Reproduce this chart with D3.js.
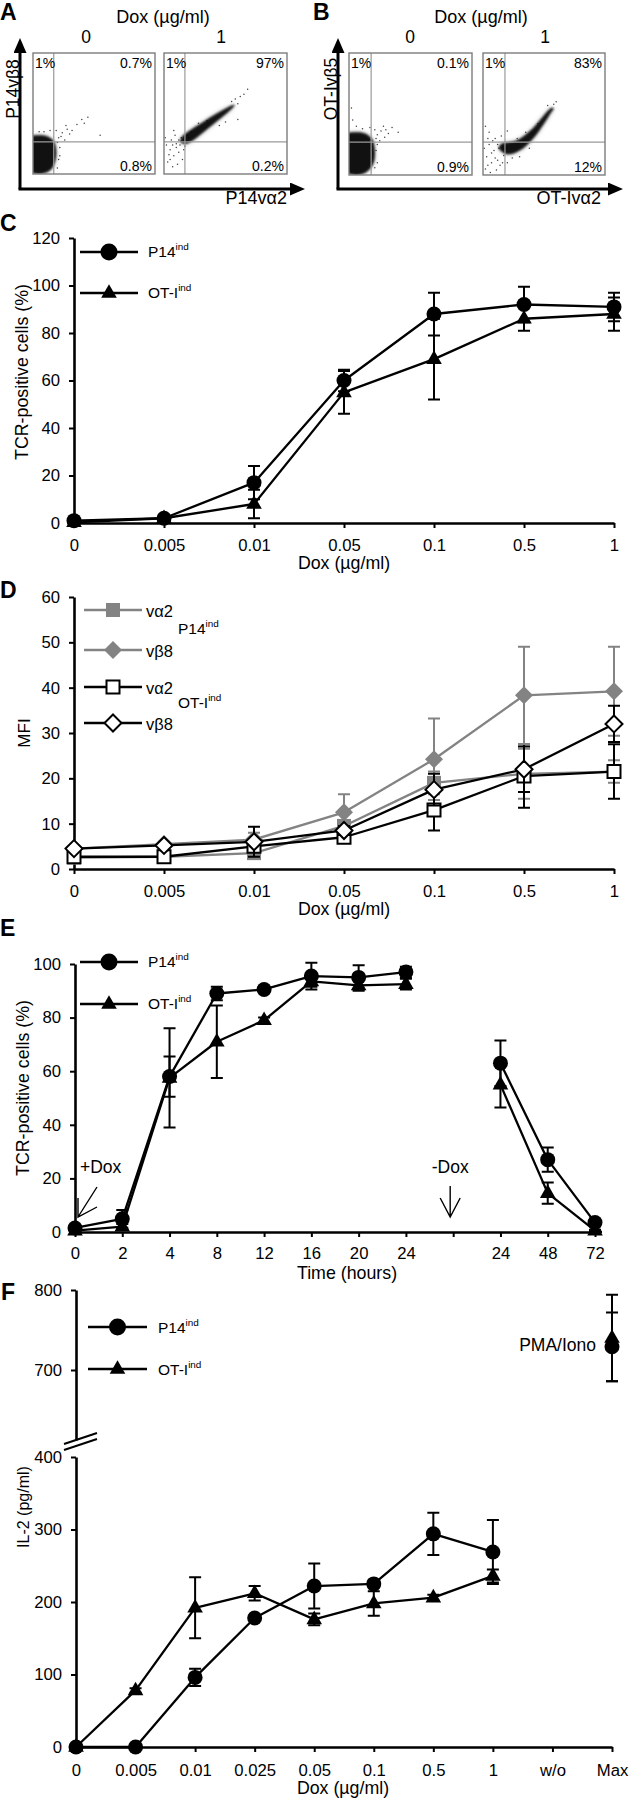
<!DOCTYPE html>
<html><head><meta charset="utf-8">
<script src="https://cdn.jsdelivr.net/npm/d3@7/dist/d3.min.js"></script>
<style>
body{margin:0;background:#fff;}
svg{display:block;}
</style></head><body>
<svg id="fig" width="633" height="1799"></svg>
<script>
// ================= DATA =================
// Panels A/B: quadrant percentages (top-left, top-right, bottom-right)
const aPct0 = ["1%", "0.7%", "0.8%"];
const aPct1 = ["1%", "97%", "0.2%"];
const bPct0 = ["1%", "0.1%", "0.9%"];
const bPct1 = ["1%", "83%", "12%"];
// flow events: dense population outlines and sparse events (fraction of log axis, 0..1)
const aCloud0 = [[-0.03,0.03],[0.06,0.0],[0.14,0.03],[0.18,0.1],[0.19,0.19],[0.17,0.27],[0.12,0.31],[0.04,0.32],[-0.03,0.3]];
const aCloud1 = [[0.14,0.3],[0.135,0.265],[0.18,0.25],[0.38,0.395],[0.565,0.553],[0.575,0.572],[0.555,0.568],[0.34,0.445]];
const bCloud0 = [[-0.03,0.03],[0.07,0.0],[0.15,0.03],[0.2,0.1],[0.21,0.2],[0.19,0.29],[0.13,0.34],[0.05,0.35],[-0.03,0.33]];
const bCloud1 = [[0.13,0.22],[0.2,0.17],[0.3,0.2],[0.42,0.31],[0.56,0.515],[0.58,0.545],[0.56,0.55],[0.4,0.375],[0.27,0.28],[0.15,0.255]];
const aDots0 = [[0.21,0.3],[0.24,0.34],[0.28,0.37],[0.32,0.36],[0.36,0.41],[0.26,0.28],[0.22,0.22],[0.22,0.15],[0.2,0.05],[0.19,0.36],[0.14,0.36],[0.09,0.35],[0.42,0.42],[0.55,0.32],[0.27,0.4],[0.3,0.33],[0.05,0.35],[0.21,0.12],[0.4,0.45],[0.45,0.47],[0.2,0.26],[0.23,0.31]];
const aDots1 = [[0.03,0.1],[0.05,0.2],[0.08,0.15],[0.1,0.25],[0.12,0.18],[0.06,0.28],[0.14,0.3],[0.09,0.32],[0.02,0.24],[0.11,0.08],[0.16,0.2],[0.18,0.27],[0.04,0.16],[0.07,0.06],[0.13,0.24],[0.2,0.3],[0.15,0.12],[0.01,0.3],[0.08,0.36],[0.22,0.35],[0.58,0.62],[0.62,0.64],[0.65,0.66],[0.55,0.6],[0.6,0.45],[0.45,0.4],[0.5,0.43],[0.35,0.44],[0.28,0.42],[0.68,0.7],[0.6,0.58],[0.1,0.22],[0.07,0.24],[0.12,0.28],[0.05,0.12],[0.17,0.23],[0.14,0.27],[0.19,0.32]];
const bDots0 = [[0.23,0.33],[0.26,0.36],[0.3,0.37],[0.21,0.37],[0.25,0.28],[0.22,0.2],[0.23,0.1],[0.32,0.34],[0.28,0.4],[0.17,0.39],[0.11,0.38],[0.06,0.4],[0.35,0.39],[0.21,0.06],[0.23,0.25],[0.4,0.35],[0.03,0.45],[0.02,0.55],[0.29,0.31],[0.22,0.3]];
const bDots1 = [[0.02,0.05],[0.03,0.15],[0.05,0.25],[0.07,0.1],[0.09,0.2],[0.04,0.3],[0.1,0.3],[0.06,0.02],[0.12,0.12],[0.14,0.08],[0.01,0.22],[0.08,0.28],[0.13,0.22],[0.16,0.1],[0.11,0.04],[0.2,0.1],[0.05,0.35],[0.15,0.32],[0.58,0.58],[0.6,0.6],[0.53,0.57],[0.35,0.35],[0.45,0.42],[0.28,0.3],[0.3,0.15],[0.38,0.22],[0.02,0.4],[0.2,0.36],[0.07,0.18],[0.1,0.14],[0.04,0.08],[0.17,0.16],[0.24,0.14],[0.12,0.25],[0.19,0.22]];

// Panel C
const doseCats = ["0", "0.005", "0.01", "0.05", "0.1", "0.5", "1"];
const cP14 = [1, 2, 17, 60, 88, 92, 91];
const cP14Err = [0.5, 1, 7, 4.5, 9, 7.5, 6];
const cOT = [0.3, 2, 8, 55, 69, 86, 88];
const cOTErr = [0.3, 1, 6, 9, 17, 5, 7];
const cYTicks = [0, 20, 40, 60, 80, 100, 120];

// Panel D
const dP14va2 = [2.5, 2.7, 3.5, 9.5, 19, 21, 21.5];
const dP14va2Err = [0.4, 0.4, 0.6, 1.2, 2.5, 5.5, 2.5];
const dP14vb8 = [4.5, 5.5, 6.5, 12.5, 24.2, 38.3, 39.2];
const dP14vb8Err = [0.5, 0.5, 1.5, 4, 9, 10.7, 9.8];
const dOTva2 = [2.7, 2.7, 5, 7, 13, 20.5, 21.5];
const dOTva2Err = [0.3, 0.3, 1, 1, 4.5, 7, 6];
const dOTvb8 = [4.5, 5.2, 6, 8.5, 17.5, 22, 32];
const dOTvb8Err = [0.5, 0.5, 3.3, 1, 3.5, 5, 4];
const dYTicks = [0, 10, 20, 30, 40, 50, 60];

// Panel E
const timeCats = ["0", "2", "4", "8", "12", "16", "20", "24", "", "24", "48", "72"];
const eP14 = [1.5, 4.9, 58, 89, 90.5, 95.5, 95, 97, null, 63, 27, 3.5];
const eP14Err = [0.5, 3.3, 7.5, 2.5, 1, 5, 4.5, 2, null, 8.5, 4.5, 1];
const eOT = [0.5, 2, 57.5, 71, 79, 93.5, 92, 92.5, null, 55, 14.5, 0.5];
const eOTErr = [0.3, 1, 18.5, 13.5, 1, 2, 2, 2, null, 8.5, 4, 0.3];
const eYTicks = [0, 20, 40, 60, 80, 100];

// Panel F
const doseCatsF = ["0", "0.005", "0.01", "0.025", "0.05", "0.1", "0.5", "1", "w/o", "Max"];
const fP14 = [0, 0, 96, 178, 222, 225, 294, 269, null, 729];
const fP14Err = [0, 0, 12, 0, 31, 5, 29, 44, null, 43];
const fOT = [0, 78, 192, 212, 176, 198, 206, 236, null, 740];
const fOTErr = [0, 3, 42, 10, 8, 17, 4, 9, null, 54];
const fYTicksLow = [0, 100, 200, 300, 400];
const fYTicksHigh = [700, 800];

// ================= DRAWING =================
const FONT = "Arial, 'Liberation Sans', Helvetica, sans-serif";
const GRAY = "#838383";
const TITLE = 17.8;
const svg = d3.select("#fig").attr("font-family", FONT);
const defs = svg.append("defs");
defs.append("filter").attr("id", "soft").attr("x", "-50%").attr("y", "-50%").attr("width", "200%").attr("height", "200%")
  .append("feGaussianBlur").attr("stdDeviation", 1.0);
defs.append("filter").attr("id", "halo").attr("x", "-50%").attr("y", "-50%").attr("width", "200%").attr("height", "200%")
  .append("feGaussianBlur").attr("stdDeviation", 2.5);
defs.append("marker").attr("id", "ah").attr("viewBox", "0 0 10 10").attr("refX", 0).attr("refY", 5)
  .attr("markerWidth", 15).attr("markerHeight", 13).attr("markerUnits", "userSpaceOnUse").attr("orient", "auto")
  .attr("preserveAspectRatio", "none")
  .append("path").attr("d", "M0,0L10,5L0,10Z").attr("fill", "#000");

const SHAPES = {
  circle: d3.symbol(d3.symbolCircle, Math.PI * 7.5 * 7.5)(),
  bigcircle: d3.symbol(d3.symbolCircle, Math.PI * 8.5 * 8.5)(),
  triangle: "M0,-8.8L7.8,4.8L-7.8,4.8Z",
  square: "M-7,-7H7V7H-7Z",
  osquare: "M-6.5,-6.5H6.5V6.5H-6.5Z",
  diamond: "M0,-9L9,0L0,9L-9,0Z",
  odiamond: "M0,-8.5L8.5,0L0,8.5L-8.5,0Z"
};

function panelLabel(t, x, y) {
  svg.append("text").attr("x", x).attr("y", y).attr("font-size", 23).attr("font-weight", "bold").text(t);
}
function txt(t, x, y, fs, anchor) {
  return svg.append("text").attr("x", x).attr("y", y).attr("font-size", fs).attr("text-anchor", anchor || "start").text(t);
}
function styleAxis(sel, fs) {
  sel.attr("font-family", FONT).attr("font-size", fs);
  sel.select(".domain").attr("stroke", "#000").attr("stroke-width", 2.6);
  sel.selectAll(".tick line").attr("stroke", "#000").attr("stroke-width", 2);
  sel.selectAll(".tick text").attr("fill", "#000");
}
function supText(base, sup, x, y, fs) {
  const t = svg.append("text").attr("x", x).attr("y", y).attr("font-size", fs);
  t.append("tspan").text(base);
  t.append("tspan").attr("font-size", fs * 0.64).attr("dy", -fs * 0.42).text(sup);
  return t;
}
function series(g, x, y, vals, errs, o) {
  const pts = vals.map((v, i) => ({ i, v, e: errs[i] }));
  (o.segments || [[0, vals.length - 1]]).forEach(([a, b]) => {
    g.append("path").datum(pts.slice(a, b + 1))
      .attr("d", d3.line().x(d => x(d.i)).y(d => y(d.v, d.i)))
      .attr("fill", "none").attr("stroke", o.color).attr("stroke-width", 2.3).attr("stroke-linejoin", "round");
  });
  const eb = pts.filter(d => d.v != null && d.e > 0);
  g.append("g").selectAll("path").data(eb).join("path")
    .attr("d", d => {
      const X = x(d.i), y1 = y(d.v + d.e, d.i), y0 = y(d.v - d.e, d.i);
      return `M${X},${y0}V${y1}M${X - 6},${y1}H${X + 6}M${X - 6},${y0}H${X + 6}`;
    })
    .attr("stroke", o.color).attr("stroke-width", 2).attr("fill", "none");
  g.append("g").selectAll("path").data(pts.filter(d => d.v != null)).join("path")
    .attr("transform", d => `translate(${x(d.i)},${y(d.v, d.i)})`)
    .attr("d", SHAPES[o.shape]).attr("fill", o.fill)
    .attr("stroke", o.stroke || "none").attr("stroke-width", o.sw || 0);
}
function legendEntry(x1, x2, y, shape, color, fill, stroke, sw) {
  svg.append("line").attr("x1", x1).attr("x2", x2).attr("y1", y).attr("y2", y).attr("stroke", color).attr("stroke-width", 2.3);
  svg.append("path").attr("transform", `translate(${(x1 + x2) / 2},${y})`).attr("d", SHAPES[shape])
    .attr("fill", fill).attr("stroke", stroke || "none").attr("stroke-width", sw || 0);
}

// ---------- Panels A & B (flow plots) ----------
function flowPlot(bx, by, bw, bh, gate, cloud, dots, pct) {
  const x = d3.scaleLinear([0, 1], [bx, bx + bw]);
  const y = d3.scaleLinear([0, 1], [by + bh, by]);
  const id = "clip" + bx;
  defs.append("clipPath").attr("id", id).append("rect").attr("x", bx).attr("y", by).attr("width", bw).attr("height", bh);
  const inner = svg.append("g").attr("clip-path", `url(#${id})`);
  const ln = d3.line().x(d => x(d[0])).y(d => y(d[1])).curve(d3.curveCatmullRomClosed.alpha(0.5));
  inner.selectAll("circle").data(dots).join("circle")
    .attr("cx", d => x(d[0])).attr("cy", d => y(d[1])).attr("r", 0.75).attr("fill", "#444");
  inner.append("path").datum(cloud).attr("d", ln).attr("fill", "#000").attr("opacity", 0.3).attr("filter", "url(#halo)");
  inner.append("path").datum(cloud).attr("d", ln).attr("fill", "#000").attr("opacity", 0.9).attr("filter", "url(#soft)");
  svg.append("line").attr("x1", x(gate[0])).attr("x2", x(gate[0])).attr("y1", by).attr("y2", by + bh).attr("stroke", "#9a9a9a").attr("stroke-width", 1.2);
  svg.append("line").attr("x1", bx).attr("x2", bx + bw).attr("y1", y(gate[1])).attr("y2", y(gate[1])).attr("stroke", "#9a9a9a").attr("stroke-width", 1.2);
  svg.append("rect").attr("x", bx).attr("y", by).attr("width", bw).attr("height", bh).attr("fill", "none").attr("stroke", "#7d7d7d").attr("stroke-width", 1.4);
  txt(pct[0], bx + 2, by + 15, 14);
  txt(pct[1], bx + bw - 3, by + 15, 14, "end");
  txt(pct[2], bx + bw - 3, by + bh - 3, 14, "end");
}
function flowAxes(ax, tipY, axY, tipX, yLab, xLab, xLabEnd) {
  svg.append("line").attr("x1", ax).attr("y1", axY).attr("x2", ax).attr("y2", tipY + 15)
    .attr("stroke", "#000").attr("stroke-width", 3).attr("marker-end", "url(#ah)");
  svg.append("line").attr("x1", ax - 1.5).attr("y1", axY).attr("x2", tipX - 15).attr("y2", axY)
    .attr("stroke", "#000").attr("stroke-width", 3).attr("marker-end", "url(#ah)");
  svg.append("text").attr("transform", `translate(${ax - 1},89) rotate(-90)`).attr("text-anchor", "middle").attr("font-size", 17.5).text(yLab);
  txt(xLab, xLabEnd, 204, 18, "end");
}
panelLabel("A", 0, 20);
txt("Dox (µg/ml)", 163, 23, 18, "middle");
txt("0", 86, 43, 17.5, "middle");
txt("1", 221, 43, 17.5, "middle");
flowPlot(33, 53, 122, 121, [0.17, 0.265], aCloud0, aDots0, aPct0);
flowPlot(164, 53, 123, 121, [0.17, 0.265], aCloud1, aDots1, aPct1);
flowAxes(20, 38, 189, 305, "P14vβ8", "P14vα2", 287);

panelLabel("B", 313, 20);
txt("Dox (µg/ml)", 481, 23, 18, "middle");
txt("0", 410, 43, 17.5, "middle");
txt("1", 545, 43, 17.5, "middle");
flowPlot(349, 53, 123, 122, [0.18, 0.27], bCloud0, bDots0, bPct0);
flowPlot(483, 53, 122, 122, [0.18, 0.27], bCloud1, bDots1, bPct1);
flowAxes(338, 38, 189, 623, "OT-Ivβ5", "OT-Ivα2", 601);

// ---------- Panel C ----------
(function () {
  const x = d3.scalePoint().domain(d3.range(doseCats.length)).range([74, 614]);
  const yl = d3.scaleLinear([0, 120], [523, 238]);
  const y = v => yl(v);
  panelLabel("C", 0, 231);
  const ax = svg.append("g").attr("transform", "translate(0,523)")
    .call(d3.axisBottom(x).tickFormat(i => doseCats[i]).tickSize(5).tickSizeOuter(0).tickPadding(11));
  styleAxis(ax, 16.7);
  const ay = svg.append("g").attr("transform", "translate(74,0)")
    .call(d3.axisLeft(yl).tickValues(cYTicks).tickSize(5).tickSizeOuter(0).tickPadding(9));
  styleAxis(ay, 16.7);
  const g = svg.append("g");
  series(g, x, y, cP14, cP14Err, { color: "#000", shape: "circle", fill: "#000" });
  series(g, x, y, cOT, cOTErr, { color: "#000", shape: "triangle", fill: "#000" });
  txt("Dox (µg/ml)", 344, 569, TITLE, "middle");
  svg.append("text").attr("transform", "translate(28,372) rotate(-90)").attr("text-anchor", "middle").attr("font-size", TITLE).text("TCR-positive cells (%)");
  legendEntry(80, 138, 252, "bigcircle", "#000", "#000");
  supText("P14", "ind", 148, 257, 15.5);
  legendEntry(80, 138, 293, "triangle", "#000", "#000");
  supText("OT-I", "ind", 148, 298, 15.5);
})();

// ---------- Panel D ----------
(function () {
  const x = d3.scalePoint().domain(d3.range(doseCats.length)).range([74, 614]);
  const yl = d3.scaleLinear([0, 60], [869, 597]);
  const y = v => yl(v);
  panelLabel("D", 0, 598);
  const ax = svg.append("g").attr("transform", "translate(0,869)")
    .call(d3.axisBottom(x).tickFormat(i => doseCats[i]).tickSize(5).tickSizeOuter(0).tickPadding(11));
  styleAxis(ax, 16.7);
  const ay = svg.append("g").attr("transform", "translate(74,0)")
    .call(d3.axisLeft(yl).tickValues(dYTicks).tickSize(5).tickSizeOuter(0).tickPadding(9));
  styleAxis(ay, 16.7);
  const g = svg.append("g");
  series(g, x, y, dP14va2, dP14va2Err, { color: GRAY, shape: "square", fill: GRAY });
  series(g, x, y, dOTva2, dOTva2Err, { color: "#000", shape: "osquare", fill: "#fff", stroke: "#000", sw: 2 });
  series(g, x, y, dP14vb8, dP14vb8Err, { color: GRAY, shape: "diamond", fill: GRAY });
  series(g, x, y, dOTvb8, dOTvb8Err, { color: "#000", shape: "odiamond", fill: "#fff", stroke: "#000", sw: 2 });
  txt("Dox (µg/ml)", 344, 915, TITLE, "middle");
  svg.append("text").attr("transform", "translate(30,733) rotate(-90)").attr("text-anchor", "middle").attr("font-size", 17).text("MFI");
  legendEntry(84, 142, 610, "square", GRAY, GRAY);
  txt("vα2", 146, 617, 16.5);
  legendEntry(84, 142, 650, "diamond", GRAY, GRAY);
  txt("vβ8", 146, 657, 16.5);
  legendEntry(84, 142, 687, "osquare", "#000", "#fff", "#000", 2);
  txt("vα2", 146, 694, 16.5);
  legendEntry(84, 142, 723, "odiamond", "#000", "#fff", "#000", 2);
  txt("vβ8", 146, 730, 16.5);
  supText("P14", "ind", 178, 634, 15.5);
  supText("OT-I", "ind", 178, 708, 15.5);
})();

// ---------- Panel E ----------
(function () {
  const x = d3.scalePoint().domain(d3.range(timeCats.length)).range([75, 595]);
  const yl = d3.scaleLinear([0, 100], [1232, 964]);
  const y = v => yl(v);
  panelLabel("E", 0, 936);
  svg.append("line").attr("x1", 590).attr("x2", 602).attr("y1", 1232).attr("y2", 1232).attr("stroke", "#000").attr("stroke-width", 2.6);
  const ax = svg.append("g").attr("transform", "translate(0,1232)")
    .call(d3.axisBottom(x).tickFormat(i => timeCats[i]).tickSize(5).tickSizeOuter(0).tickPadding(10));
  styleAxis(ax, 16.7);
  const ay = svg.append("g").attr("transform", "translate(75,0)")
    .call(d3.axisLeft(yl).tickValues(eYTicks).tickSize(5).tickSizeOuter(0).tickPadding(9));
  styleAxis(ay, 16.7);
  const g = svg.append("g");
  const segs = [[0, 7], [9, 11]];
  series(g, x, y, eP14, eP14Err, { color: "#000", shape: "circle", fill: "#000", segments: segs });
  series(g, x, y, eOT, eOTErr, { color: "#000", shape: "triangle", fill: "#000", segments: segs });
  txt("Time (hours)", 347, 1279, TITLE, "middle");
  svg.append("text").attr("transform", "translate(29,1088) rotate(-90)").attr("text-anchor", "middle").attr("font-size", TITLE).text("TCR-positive cells (%)");
  legendEntry(80, 138, 962, "bigcircle", "#000", "#000");
  supText("P14", "ind", 148, 967, 15.5);
  legendEntry(80, 138, 1004, "triangle", "#000", "#000");
  supText("OT-I", "ind", 148, 1009, 15.5);
  // +Dox annotation at time 0
  const x0 = x(0), tipY = yl(0) - 15;
  txt("+Dox", x0 + 5, 1173, 17.5);
  svg.append("path").attr("d", `M${x0 + 22},${tipY - 30}L${x0 + 3},${tipY}M${x0 + 3},${tipY - 19}V${tipY}L${x0 + 22},${tipY - 10}`)
    .attr("fill", "none").attr("stroke", "#000").attr("stroke-width", 1.4);
  // -Dox annotation at the break
  const x8 = x(8) - 3;
  txt("-Dox", x8, 1173, 17.5, "middle");
  svg.append("path").attr("d", `M${x8},${tipY - 31}V${tipY}M${x8 - 10},${tipY - 19}L${x8},${tipY}L${x8 + 10},${tipY - 19}`)
    .attr("fill", "none").attr("stroke", "#000").attr("stroke-width", 1.4);
})();

// ---------- Panel F ----------
(function () {
  const x = d3.scalePoint().domain(d3.range(doseCatsF.length)).range([76, 612]);
  const yLow = d3.scaleLinear([0, 400], [1747, 1457]);
  const yUp = d3.scaleLinear([612.5, 800], [1440, 1290]);
  const y = (v, i) => (doseCatsF[i] === "Max" ? yUp(v) : yLow(v));
  panelLabel("F", 1, 1300);
  const ax = svg.append("g").attr("transform", "translate(0,1747)")
    .call(d3.axisBottom(x).tickFormat(i => doseCatsF[i]).tickSize(5).tickSizeOuter(0).tickPadding(12));
  styleAxis(ax, 16.7);
  const ay1 = svg.append("g").attr("transform", "translate(76,0)")
    .call(d3.axisLeft(yLow).tickValues(fYTicksLow).tickSize(5).tickSizeOuter(0).tickPadding(9));
  styleAxis(ay1, 16.7);
  const ay2 = svg.append("g").attr("transform", "translate(76,0)")
    .call(d3.axisLeft(yUp).tickValues(fYTicksHigh).tickSize(5).tickSizeOuter(0).tickPadding(9));
  styleAxis(ay2, 16.7);
  // axis break marks
  svg.append("path").attr("d", "M64,1444L97,1433M64,1450L97,1439").attr("stroke", "#000").attr("stroke-width", 2).attr("fill", "none");
  const g = svg.append("g");
  series(g, x, y, fP14, fP14Err, { color: "#000", shape: "circle", fill: "#000", segments: [[0, 7]] });
  series(g, x, y, fOT, fOTErr, { color: "#000", shape: "triangle", fill: "#000", segments: [[0, 7]] });
  txt("PMA/Iono", x(9) - 16, 1351, 17.5, "end");
  txt("Dox (µg/ml)", 343, 1794, TITLE, "middle");
  svg.append("text").attr("transform", "translate(29,1507) rotate(-90)").attr("text-anchor", "middle").attr("font-size", 16).text("IL-2 (pg/ml)");
  legendEntry(88, 147, 1327, "bigcircle", "#000", "#000");
  supText("P14", "ind", 158, 1333, 15.5);
  legendEntry(88, 147, 1369, "triangle", "#000", "#000");
  supText("OT-I", "ind", 158, 1375, 15.5);
})();
</script>
</body></html>
